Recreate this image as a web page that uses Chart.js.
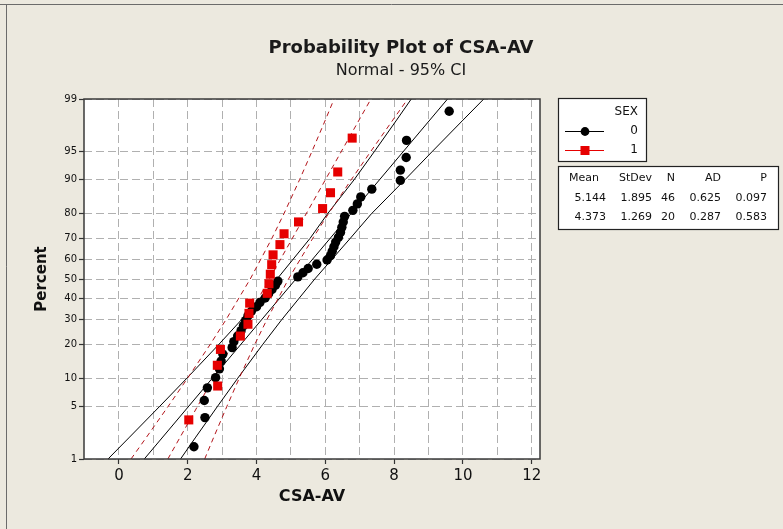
<!DOCTYPE html>
<html><head><meta charset="utf-8">
<script src="https://cdn.jsdelivr.net/npm/chart.js@4.4.1/dist/chart.umd.min.js"></script>
<style>html,body{margin:0;padding:0;background:#ece9df;}canvas{display:block;}</style>
</head><body>
<canvas id="c" width="783" height="529"></canvas>
<script>
// ---- data ----
const PCT_TICKS = [1,5,10,20,30,40,50,60,70,80,90,95,99];
const X_TICKS = [0,2,4,6,8,10,12];
const X_GRID = [0,1,2,3,4,5,6,7,8,9,10,11,12];

const SEX0_PCT = [1.51,3.66,5.82,7.97,10.13,12.28,14.44,16.59,18.75,20.91,23.06,25.22,27.37,29.53,31.68,33.84,35.99,38.15,40.30,42.46,44.61,46.77,48.92,51.08,53.23,55.39,57.54,59.70,61.85,64.01,66.16,68.32,70.47,72.63,74.78,76.94,79.09,81.25,83.41,85.56,87.72,89.87,92.03,94.18,96.34,98.49];
const SEX0_X = [2.18,2.50,2.48,2.57,2.81,2.92,2.97,3.02,3.29,3.34,3.45,3.55,3.62,3.68,3.75,3.85,4.00,4.10,4.25,4.35,4.45,4.55,4.62,5.20,5.35,5.50,5.75,6.05,6.15,6.20,6.25,6.30,6.38,6.44,6.48,6.52,6.56,6.80,6.93,7.03,7.35,8.18,8.18,8.35,8.36,9.60];

const SEX1_PCT = [3.43,8.33,13.24,18.14,23.04,27.94,32.84,37.75,42.65,47.55,52.45,57.35,62.25,67.16,72.06,76.96,81.86,86.76,91.67,96.57];
const SEX1_X = [2.03,2.87,2.86,2.95,3.53,3.75,3.78,3.80,4.31,4.36,4.40,4.44,4.48,4.68,4.80,5.22,5.92,6.15,6.36,6.78];

const FIT_PCT = [1,99];
const FIT0_X = [0.736,9.552];
const FIT1_X = [1.421,7.325];

const BAND_PCT = [1,2,5,10,20,30,50,70,80,90,95,98,99];
const LO0_X = [-0.318,0.286,1.187,1.976,2.912,3.566,4.596,5.554,6.062,6.834,7.421,8.071,8.498];
const HI0_X = [1.790,2.217,2.867,3.454,4.187,4.734,5.692,6.722,7.336,8.312,9.101,10.002,10.606];
const LO1_X = [0.351,0.786,1.432,1.996,2.658,3.114,3.817,4.445,4.794,5.249,5.607,5.999,6.254];
const HI1_X = [2.492,2.747,3.139,3.497,3.952,4.301,4.929,5.632,6.088,6.750,7.314,7.960,8.395];

const LEGEND_TITLE = 'SEX';
const GROUPS = ['0','1'];
const STATS_HEAD = ['Mean','StDev','N','AD','P'];
const STATS_ROW0 = ['5.144','1.895','46','0.625','0.097'];
const STATS_ROW1 = ['4.373','1.269','20','0.287','0.583'];

const TITLE = 'Probability Plot of CSA-AV';
const SUBTITLE = 'Normal - 95% CI';
const X_TITLE = 'CSA-AV';
const Y_TITLE = 'Percent';

// ---- normal probability scale transform ----
function probit(p){
  const a=[-39.69683028665376,220.9460984245205,-275.9285104469687,138.3577518672690,-30.66479806614716,2.506628277459239];
  const b=[-54.47609879822406,161.5858368580409,-155.6989798598866,66.80131188771972,-13.28068155288572];
  const c=[-0.007784894002430293,-0.3223964580411365,-2.400758277161838,-2.549732539343734,4.374664141464968,2.938163982698783];
  const d=[0.007784695709041462,0.3224671290700398,2.445134137142996,3.754408661907416];
  const pl=0.02425, ph=1-pl; let q,r;
  if(p<pl){q=Math.sqrt(-2*Math.log(p));return (((((c[0]*q+c[1])*q+c[2])*q+c[3])*q+c[4])*q+c[5])/((((d[0]*q+d[1])*q+d[2])*q+d[3])*q+1);}
  if(p<=ph){q=p-0.5;r=q*q;return (((((a[0]*r+a[1])*r+a[2])*r+a[3])*r+a[4])*r+a[5])*q/(((((b[0]*r+b[1])*r+b[2])*r+b[3])*r+b[4])*r+1);}
  q=Math.sqrt(-2*Math.log(1-p));return -(((((c[0]*q+c[1])*q+c[2])*q+c[3])*q+c[4])*q+c[5])/((((d[0]*q+d[1])*q+d[2])*q+d[3])*q+1);
}
const pts = (xs, ps) => xs.map((x,i)=>({x:x, y:probit(ps[i]/100)}));

const BLACK='#000000', RED='#e60000', DRED='#b3141a';
const FONT="'DejaVu Sans', Verdana, sans-serif";
Chart.defaults.font.family = FONT;
Chart.defaults.color = '#111';

const lineDs = (xs, ps, color, dash, order) => ({
  data: pts(xs, ps), showLine:true, borderColor:color, borderWidth:1, borderDash:dash,
  pointRadius:0, pointHoverRadius:0, fill:false, tension:0, order:order
});

const framePlugin = {
  id:'frame',
  beforeDraw(chart){
    const {ctx, chartArea:a} = chart;
    ctx.save();
    ctx.fillStyle='#ece9df'; ctx.fillRect(0,0,chart.width,chart.height);
    ctx.fillStyle='#ffffff'; ctx.fillRect(a.left,a.top,a.right-a.left,a.bottom-a.top);
    ctx.strokeStyle='#6b6b6b'; ctx.lineWidth=1;
    ctx.beginPath(); ctx.moveTo(0,4.5); ctx.lineTo(chart.width,4.5); ctx.moveTo(6.5,4.5); ctx.lineTo(6.5,chart.height); ctx.stroke();
    ctx.restore();
  },
  afterDraw(chart){
    const {ctx, chartArea:a} = chart;
    ctx.save();
    ctx.strokeStyle='#3a3a3a'; ctx.lineWidth=1.5;
    ctx.strokeRect(a.left,a.top,a.right-a.left,a.bottom-a.top);
    ctx.fillStyle='#1a1a1a'; ctx.textAlign='center'; ctx.textBaseline='alphabetic';
    ctx.font="bold 18px "+FONT; ctx.fillText(TITLE,401,53);
    ctx.font="16px "+FONT; ctx.fillText(SUBTITLE,401,75);
    // legend box
    ctx.lineWidth=1.2; ctx.strokeStyle='#222';
    ctx.fillStyle='#ffffff'; ctx.fillRect(558,98,88,63); ctx.strokeRect(558.5,98.5,88,63);
    ctx.fillStyle='#111'; ctx.font="12px "+FONT; ctx.textAlign='right'; ctx.textBaseline='middle';
    ctx.fillText(LEGEND_TITLE,638,112);
    ctx.fillText(GROUPS[0],638,131);
    ctx.fillText(GROUPS[1],638,150);
    ctx.lineWidth=1;
    ctx.strokeStyle=BLACK; ctx.beginPath(); ctx.moveTo(565,131.5); ctx.lineTo(604,131.5); ctx.stroke();
    ctx.fillStyle=BLACK; ctx.beginPath(); ctx.arc(585,131.5,4.4,0,Math.PI*2); ctx.fill();
    ctx.strokeStyle=RED; ctx.beginPath(); ctx.moveTo(565,150.5); ctx.lineTo(604,150.5); ctx.stroke();
    ctx.fillStyle=RED; ctx.fillRect(580.5,146,9,9);
    // stats box
    ctx.lineWidth=1.2; ctx.strokeStyle='#222';
    ctx.fillStyle='#ffffff'; ctx.fillRect(558,166,220,63); ctx.strokeRect(558.5,166.5,220,63);
    ctx.fillStyle='#111'; ctx.font="11px "+FONT; ctx.textAlign='right';
    const cols=[599,652,675,721,767];
    const colsV=[606,652,675,721,767];
    STATS_HEAD.forEach((t,i)=>ctx.fillText(t,cols[i],178));
    STATS_ROW0.forEach((t,i)=>ctx.fillText(t,colsV[i],198));
    STATS_ROW1.forEach((t,i)=>ctx.fillText(t,colsV[i],217));
    ctx.restore();
  }
};

new Chart(document.getElementById('c'), {
  type:'scatter',
  data:{ datasets:[
    {label:'1', data:pts(SEX1_X,SEX1_PCT), pointStyle:'rect', pointRadius:6.4, pointHoverRadius:6.4,
     backgroundColor:RED, borderColor:RED, borderWidth:0, showLine:false, order:0},
    {label:'0', data:pts(SEX0_X,SEX0_PCT), pointStyle:'circle', pointRadius:4.7, pointHoverRadius:4.7,
     backgroundColor:BLACK, borderColor:BLACK, borderWidth:0, showLine:false, order:1},
    lineDs(FIT1_X, FIT_PCT, DRED, [5,4], 2),
    lineDs(LO1_X, BAND_PCT, DRED, [5,4], 2),
    lineDs(HI1_X, BAND_PCT, DRED, [5,4], 2),
    lineDs(FIT0_X, FIT_PCT, BLACK, [], 3),
    lineDs(LO0_X, BAND_PCT, BLACK, [], 3),
    lineDs(HI0_X, BAND_PCT, BLACK, [], 3)
  ]},
  options:{
    responsive:false, animation:false, devicePixelRatio:1,
    layout:{padding:{left:29, right:243, top:99, bottom:19}},
    plugins:{legend:{display:false}, tooltip:{enabled:false}, title:{display:false}},
    scales:{
      x:{ type:'linear', min:-1.016, max:12.24,
        afterBuildTicks:(s)=>{ s.ticks = X_GRID.map(v=>({value:v})); },
        afterFit:(s)=>{ s.height = 51; },
        ticks:{ autoSkip:false, maxRotation:0, padding:3, color:'#111', font:{size:15},
          callback:(v)=> X_TICKS.includes(v) ? String(v) : '' },
        grid:{ color:'#b0b0b0', lineWidth:1, tickLength:5, tickWidth:1.2,
          tickColor:(ctx)=> (ctx.tick && X_TICKS.includes(ctx.tick.value)) ? '#333' : 'rgba(0,0,0,0)' },
        border:{ display:false, dash:[8,4] },
        title:{ display:true, text:X_TITLE, color:'#111', font:{size:16, weight:'bold'}, padding:4 }
      },
      y:{ type:'linear', min:probit(0.01), max:probit(0.99),
        afterBuildTicks:(s)=>{ s.ticks = PCT_TICKS.map(p=>({value:probit(p/100)})); },
        afterFit:(s)=>{ s.width = 55; },
        ticks:{ autoSkip:false, padding:2, color:'#111', font:{size:10},
          callback:(v,i)=> String(PCT_TICKS[i]) },
        grid:{ color:'#b0b0b0', lineWidth:1, tickLength:5, tickWidth:1.2, tickColor:'#333' },
        border:{ display:false, dash:[8,4] },
        title:{ display:true, text:Y_TITLE, color:'#111', font:{size:15, weight:'bold'}, padding:4 }
      }
    }
  },
  plugins:[framePlugin]
});
</script>
</body></html>
